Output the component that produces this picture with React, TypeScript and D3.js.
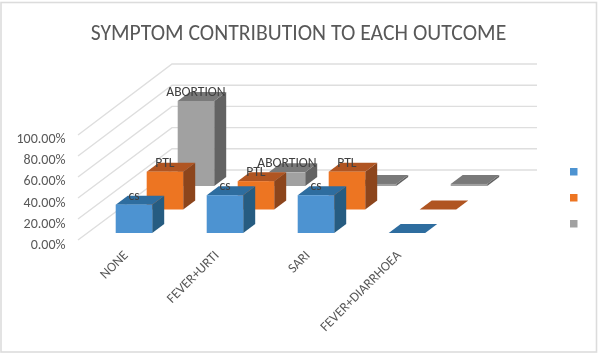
import React from "react";
import * as d3 from "d3";

const title = "SYMPTOM CONTRIBUTION TO EACH OUTCOME";
const categories = ["NONE", "FEVER+URTI", "SARI", "FEVER+DIARRHOEA"];
const seriesNames = ["ABORTION", "PTL", "cs"];
const cs = [0.27, 0.36, 0.36, 0];
const ptl = [0.36, 0.27, 0.36, 0];
const abortion = [0.81, 0.13, 0.02, 0.02];
const yTicks = [0, 0.2, 0.4, 0.6, 0.8, 1];
const seriesValues: Record<string, number[]> = { ABORTION: abortion, PTL: ptl, cs };
const labelled: Record<string, boolean[]> = {
  ABORTION: [true, true, false, false],
  PTL: [true, true, true, false],
  cs: [true, true, true, false],
};
const palette: Record<string, { front: string; top: string; side: string }> = {
  ABORTION: { front: "#a1a1a1", top: "#797979", side: "#636363" },
  PTL: { front: "#ed7522", top: "#b05521", side: "#8c451f" },
  cs: { front: "#4e93d1", top: "#2f6d9f", side: "#255c81" },
};

const W = 600;
const H = 356;
const barW = 36.5;
const depthX = 12;
const depthY = 9;

const xCat = d3.scaleLinear().domain([0, 3]).range([115.7, 388.7]);
const depthXScale = d3.scaleLinear().domain([2, 0]).range([0, 62]);
const depthYScale = d3.scaleLinear().domain([2, 0]).range([233, 186]);
const h = d3.scaleLinear().domain([0, 1]).range([0, 105]);
const yFront = d3.scaleLinear().domain([0, 1]).range([240, 135]);
const yBack = d3.scaleLinear().domain([0, 1]).range([170, 64]);
const yLabel = d3.scaleLinear().domain([0, 1]).range([249, 143]);

const pts = (p: [number, number][]) => p.map((q) => q.join(",")).join(" ");
const pct = d3.format(".2%");

export default function App() {
  return (
    <svg
      width={W}
      height={H}
      style={{ position: "absolute", left: 0, top: 0, display: "block" }}
      fontFamily="Carlito, 'Open Sans', sans-serif"
    >
      <defs>
        <filter id="soft" x="-5%" y="-5%" width="110%" height="110%">
          <feGaussianBlur stdDeviation="0.45" />
        </filter>
      </defs>
      <rect width={W} height={H} fill="#fff" />
      <g filter="url(#soft)">
        <rect x={1} y={2.5} width={595.5} height={349.5} fill="none" stroke="#dcdcdc" strokeWidth={1.6} />
        <text x={298.5} y={40} textAnchor="middle" fontSize={21.7} fill="#595959">{title}</text>

        {yTicks.map((t) => (
          <g key={t}>
            <polyline
              points={pts([[78, yFront(t)], [172, yBack(t)], [537, yBack(t)]])}
              fill="none"
              stroke="#dedede"
              strokeWidth={1.4}
            />
            <text x={65.5} y={yLabel(t)} textAnchor="end" fontSize={14} fill="#595959">{pct(t)}</text>
          </g>
        ))}

        {seriesNames.map((s, si) => (
          <g key={s}>
            {seriesValues[s].map((v, i) => {
              const x0 = xCat(i) + depthXScale(si);
              const yb = depthYScale(si);
              const yt = yb - h(v);
              const x1 = x0 + barW;
              const c = palette[s];
              return (
                <g key={i}>
                  <polygon points={pts([[x1, yb], [x1 + depthX, yb - depthY], [x1 + depthX, yt - depthY], [x1, yt]])} fill={c.side} />
                  <polygon points={pts([[x0, yt], [x0 + depthX, yt - depthY], [x1 + depthX, yt - depthY], [x1, yt]])} fill={c.top} />
                  <rect x={x0} y={yt} width={barW} height={yb - yt} fill={c.front} />
                </g>
              );
            })}
          </g>
        ))}

        {seriesNames.map((s, si) =>
          seriesValues[s].map((v, i) =>
            labelled[s][i] ? (
              <text
                key={s + i}
                x={xCat(i) + depthXScale(si) + barW / 2}
                y={depthYScale(si) - h(v) - depthY + 4}
                textAnchor="middle"
                fontSize={13.6}
                fill="#404040"
              >
                {s}
              </text>
            ) : null
          )
        )}

        {categories.map((c, i) => (
          <text
            key={c}
            transform={`translate(${xCat(i) + 13},256) rotate(-45)`}
            textAnchor="end"
            fontSize={13.6}
            fill="#595959"
          >
            {c}
          </text>
        ))}

        {seriesNames.slice().reverse().map((s, i) => (
          <rect key={s} x={570} y={168 + i * 26} width={7.5} height={7.5} fill={palette[s].front} />
        ))}
      </g>
    </svg>
  );
}
